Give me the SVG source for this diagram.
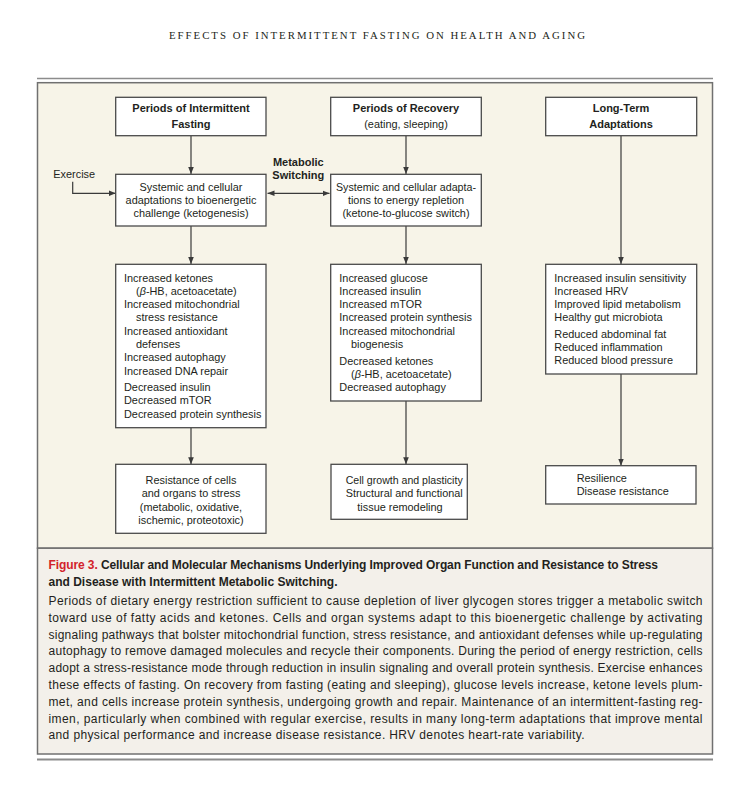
<svg xmlns="http://www.w3.org/2000/svg" width="755" height="786" viewBox="0 0 755 786">
<defs>
<marker id="ah" viewBox="0 0 8 8" refX="8" refY="4" markerWidth="7" markerHeight="7" markerUnits="userSpaceOnUse" orient="auto-start-reverse">
<path d="M0,0.8 L8,4 L0,7.2 Z" fill="#3a3a3a"/>
</marker>
<style>
.box{fill:#ffffff;stroke:#4a4a4a;stroke-width:1.3}
.t{font-family:"Liberation Sans",Arial,sans-serif;font-size:10.9px;fill:#231f20}
.b{font-family:"Liberation Sans",Arial,sans-serif;font-size:11px;font-weight:bold;fill:#231f20}
.c{text-anchor:middle}
.cap{font-family:"Liberation Sans",Arial,sans-serif;font-size:12px;fill:#231f20}
.capb{font-family:"Liberation Sans",Arial,sans-serif;font-size:12px;font-weight:bold;fill:#231f20}
.con{fill:none;stroke:#3a3a3a;stroke-width:1.2}
</style>
</defs>
<rect x="0" y="0" width="755" height="786" fill="#ffffff"/>
<text x="377" y="39" font-family="'Liberation Serif','Times New Roman',serif" font-size="10.8" fill="#231f20" text-anchor="middle" textLength="416" lengthAdjust="spacing">EFFECTS OF INTERMITTENT FASTING ON HEALTH AND AGING</text>
<line x1="37" y1="78.5" x2="713" y2="78.5" stroke="#8c8c8c" stroke-width="1.6"/>
<rect x="37.5" y="82.7" width="675" height="465.5" fill="#f7f4e8" stroke="#707070" stroke-width="1.5"/>
<rect x="37.5" y="548.2" width="675" height="205.8" fill="#f3f0ea" stroke="#707070" stroke-width="1.5"/>
<line x1="37" y1="759.5" x2="713" y2="759.5" stroke="#8c8c8c" stroke-width="2"/>

<g id="connectors">
<line class="con" x1="191" y1="136" x2="191" y2="174" marker-end="url(#ah)"/>
<line class="con" x1="191" y1="226" x2="191" y2="264" marker-end="url(#ah)"/>
<line class="con" x1="191" y1="428" x2="191" y2="464.3" marker-end="url(#ah)"/>
<line class="con" x1="406" y1="136" x2="406" y2="174" marker-end="url(#ah)"/>
<line class="con" x1="406" y1="226" x2="406" y2="264" marker-end="url(#ah)"/>
<line class="con" x1="406" y1="401" x2="406" y2="464.3" marker-end="url(#ah)"/>
<line class="con" x1="621" y1="136" x2="621" y2="264" marker-end="url(#ah)"/>
<line class="con" x1="621" y1="374" x2="621" y2="465.7" marker-end="url(#ah)"/>
<path class="con" d="M72.7,181.7 V193.3 H115.7" marker-end="url(#ah)"/>
<line class="con" x1="267.5" y1="193.3" x2="329.5" y2="193.3" marker-start="url(#ah)" marker-end="url(#ah)"/>
</g>

<g id="exercise"><text class="t" x="53.3" y="178.3">Exercise</text></g>
<g id="metabolic-switching">
<text class="b c" x="298.3" y="165.7">Metabolic</text>
<text class="b c" x="298.3" y="179">Switching</text>
</g>

<g id="fasting">
<rect class="box" x="115.7" y="97.3" width="150.3" height="38.4"/>
<text class="b c" x="191" y="112.3">Periods of Intermittent</text>
<text class="b c" x="191" y="127.7">Fasting</text>
</g>
<g id="recovery">
<rect class="box" x="330.7" y="97.3" width="150.6" height="38.4"/>
<text class="b c" x="406" y="112.3">Periods of Recovery</text>
<text class="t c" x="406" y="127.7">(eating, sleeping)</text>
</g>
<g id="long-term">
<rect class="box" x="545.7" y="97.3" width="151" height="38.4"/>
<text class="b c" x="621" y="112.3">Long-Term</text>
<text class="b c" x="621" y="127.7">Adaptations</text>
</g>

<g id="ketogenesis">
<rect class="box" x="115.7" y="174.3" width="150.3" height="51.7"/>
<text class="t c" x="191" y="190.7">Systemic and cellular</text>
<text class="t c" x="191" y="204">adaptations to bioenergetic</text>
<text class="t c" x="191" y="217">challenge (ketogenesis)</text>
</g>
<g id="repletion">
<rect class="box" x="330.7" y="174.3" width="150.6" height="51.7"/>
<text class="t c" x="406" y="190.7" textLength="140" lengthAdjust="spacingAndGlyphs">Systemic and cellular adapta-</text>
<text class="t c" x="406" y="204">tions to energy repletion</text>
<text class="t c" x="406" y="217">(ketone-to-glucose switch)</text>
</g>

<g id="fasting-effects">
<rect class="box" x="115.7" y="264.3" width="150.3" height="163.4"/>
<text class="t" x="124" y="281.5">Increased ketones</text>
<text class="t" x="136" y="294.8">(<tspan font-style="italic">β</tspan>-HB, acetoacetate)</text>
<text class="t" x="124" y="308.1">Increased mitochondrial</text>
<text class="t" x="136" y="321.4">stress resistance</text>
<text class="t" x="124" y="334.7">Increased antioxidant</text>
<text class="t" x="136" y="348">defenses</text>
<text class="t" x="124" y="361.3">Increased autophagy</text>
<text class="t" x="124" y="374.6">Increased DNA repair</text>
<text class="t" x="124" y="391">Decreased insulin</text>
<text class="t" x="124" y="404.3">Decreased mTOR</text>
<text class="t" x="124" y="417.6">Decreased protein synthesis</text>
</g>
<g id="recovery-effects">
<rect class="box" x="330.7" y="264.3" width="150.6" height="136.7"/>
<text class="t" x="339.3" y="281.5">Increased glucose</text>
<text class="t" x="339.3" y="294.8">Increased insulin</text>
<text class="t" x="339.3" y="308.1">Increased mTOR</text>
<text class="t" x="339.3" y="321.4">Increased protein synthesis</text>
<text class="t" x="339.3" y="334.7">Increased mitochondrial</text>
<text class="t" x="351" y="348">biogenesis</text>
<text class="t" x="339.3" y="364.5">Decreased ketones</text>
<text class="t" x="351" y="377.8">(<tspan font-style="italic">β</tspan>-HB, acetoacetate)</text>
<text class="t" x="339.3" y="391.1">Decreased autophagy</text>
</g>
<g id="long-term-effects">
<rect class="box" x="545.7" y="264.3" width="151" height="109.7"/>
<text class="t" x="554.3" y="281.5">Increased insulin sensitivity</text>
<text class="t" x="554.3" y="294.8">Increased HRV</text>
<text class="t" x="554.3" y="308.1">Improved lipid metabolism</text>
<text class="t" x="554.3" y="321.4">Healthy gut microbiota</text>
<text class="t" x="554.3" y="337.5">Reduced abdominal fat</text>
<text class="t" x="554.3" y="350.8">Reduced inflammation</text>
<text class="t" x="554.3" y="364.1">Reduced blood pressure</text>
</g>

<g id="stress-resistance">
<rect class="box" x="115.7" y="464.3" width="150.3" height="69"/>
<text class="t c" x="191" y="484">Resistance of cells</text>
<text class="t c" x="191" y="497.3">and organs to stress</text>
<text class="t c" x="191" y="510.6">(metabolic, oxidative,</text>
<text class="t c" x="191" y="523.9">ischemic, proteotoxic)</text>
</g>
<g id="growth">
<rect class="box" x="331" y="464.3" width="136.3" height="55"/>
<text class="t" x="345.7" y="484" textLength="117" lengthAdjust="spacingAndGlyphs">Cell growth and plasticity</text>
<text class="t" x="345.7" y="497.3" textLength="117" lengthAdjust="spacingAndGlyphs">Structural and functional</text>
<text class="t" x="357.3" y="510.6">tissue remodeling</text>
</g>
<g id="resilience">
<rect class="box" x="545.7" y="465.7" width="150.3" height="38.3"/>
<text class="t" x="576.7" y="481.7">Resilience</text>
<text class="t" x="576.7" y="495">Disease resistance</text>
</g>

<g id="caption">
<text class="capb" x="48.5" y="569" textLength="609.5" lengthAdjust="spacing"><tspan fill="#d2232a">Figure 3.</tspan> Cellular and Molecular Mechanisms Underlying Improved Organ Function and Resistance to Stress</text>
<text class="capb" x="48.5" y="586" textLength="289" lengthAdjust="spacing">and Disease with Intermittent Metabolic Switching.</text>
<text class="cap" x="48.5" y="605" textLength="654" lengthAdjust="spacing">Periods of dietary energy restriction sufficient to cause depletion of liver glycogen stores trigger a metabolic switch</text>
<text class="cap" x="48.5" y="621.8" textLength="654" lengthAdjust="spacing">toward use of fatty acids and ketones. Cells and organ systems adapt to this bioenergetic challenge by activating</text>
<text class="cap" x="48.5" y="638.6" textLength="654" lengthAdjust="spacing">signaling pathways that bolster mitochondrial function, stress resistance, and antioxidant defenses while up-regulating</text>
<text class="cap" x="48.5" y="655.4" textLength="654" lengthAdjust="spacing">autophagy to remove damaged molecules and recycle their components. During the period of energy restriction, cells</text>
<text class="cap" x="48.5" y="672.2" textLength="654" lengthAdjust="spacing">adopt a stress-resistance mode through reduction in insulin signaling and overall protein synthesis. Exercise enhances</text>
<text class="cap" x="48.5" y="689" textLength="654" lengthAdjust="spacing">these effects of fasting. On recovery from fasting (eating and sleeping), glucose levels increase, ketone levels plum-</text>
<text class="cap" x="48.5" y="705.8" textLength="654" lengthAdjust="spacing">met, and cells increase protein synthesis, undergoing growth and repair. Maintenance of an intermittent-fasting reg-</text>
<text class="cap" x="48.5" y="722.6" textLength="654" lengthAdjust="spacing">imen, particularly when combined with regular exercise, results in many long-term adaptations that improve mental</text>
<text class="cap" x="48.5" y="739.4" textLength="536" lengthAdjust="spacing">and physical performance and increase disease resistance. HRV denotes heart-rate variability.</text>
</g>
</svg>
